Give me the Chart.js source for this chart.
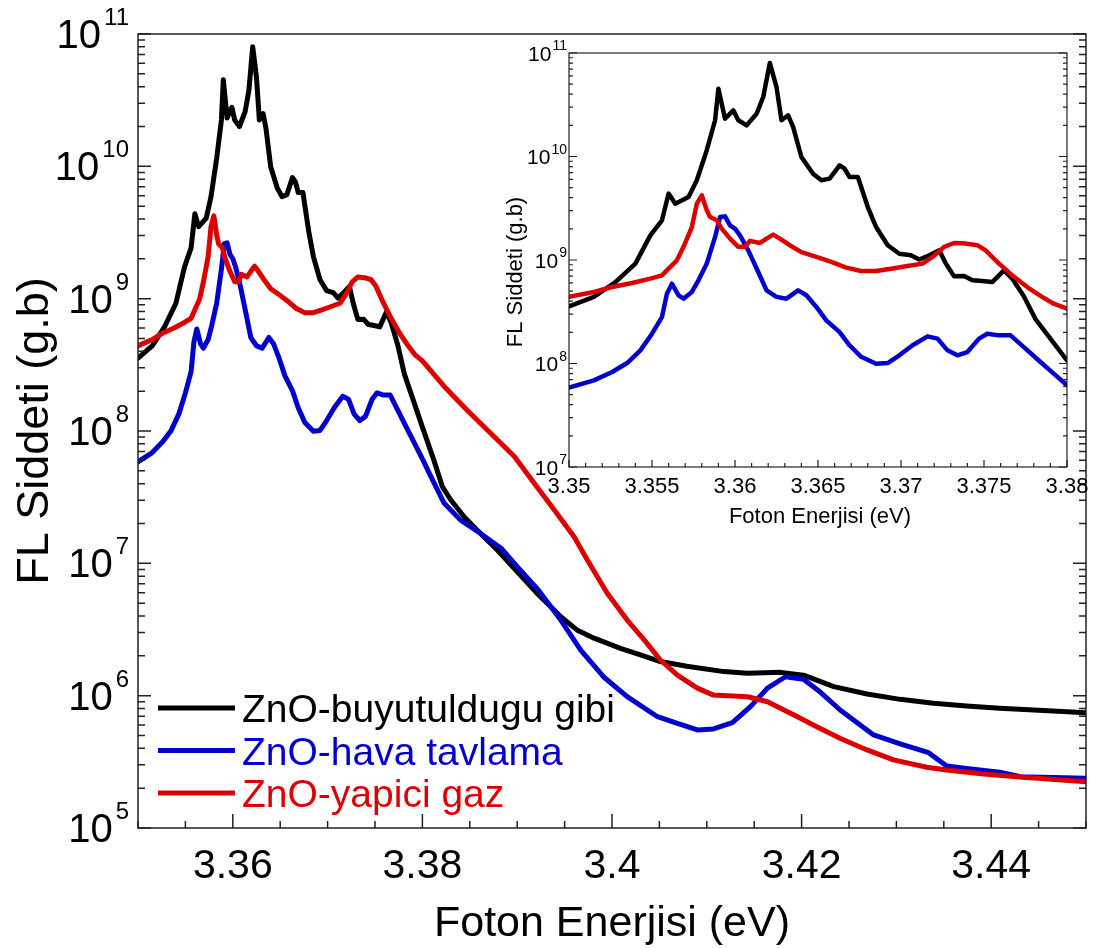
<!DOCTYPE html>
<html>
<head>
<meta charset="utf-8">
<script src="https://cdn.jsdelivr.net/npm/chart.js@4.4.1/dist/chart.umd.min.js"></script>
<style>
  html, body { margin: 0; padding: 0; background: #ffffff; }
  #wrap { position: relative; width: 1096px; height: 948px; background: #ffffff; }
  #wrap canvas { position: absolute; left: 0; top: 0; }
</style>
</head>
<body>
<div id="wrap">
  <canvas id="mainChart" width="1096" height="948"></canvas>
  <canvas id="insetChart" width="1096" height="948"></canvas>
</div>
<script>
// ---------------- DATA ----------------
const seriesLabels = ['ZnO-buyutuldugu gibi', 'ZnO-hava tavlama', 'ZnO-yapici gaz'];

const blackEnergy = [3.3500,3.3515,3.3528,3.3540,3.3549,3.3556,3.3560,3.3564,3.3572,3.3577,
  3.3583,3.3588,3.3590,3.3594,3.3599,3.3602,3.3607,3.3613,3.3617,3.3621,
  3.3625,3.3628,3.3632,3.3635,3.3640,3.3647,3.3652,3.3657,3.3663,3.3666,
  3.3669,3.3674,3.3680,3.3685,3.3692,3.3699,3.3706,3.3711,3.3717,3.3723,
  3.3727,3.3732,3.3738,3.3743,3.3749,3.3755,3.3762,3.3767,3.3774,3.3781,
  3.3790,3.3800,3.3812,3.3821,3.3830,3.3844,3.3861,3.3879,3.3895,3.3920,
  3.3946,3.3963,3.3981,3.4009,3.4030,3.4051,3.4079,3.4118,3.4143,3.4178,
  3.4202,3.4234,3.4269,3.4304,3.4339,3.4374,3.4409,3.4445,3.4500];
const blackIntensity = [3.56e8,4.40e8,6.12e8,9.23e8,1.73e9,2.42e9,4.38e9,3.50e9,4.06e9,5.89e9,
  1.15e10,2.24e10,4.52e10,2.32e10,2.79e10,2.24e10,2.0e10,2.59e10,3.76e10,8.0e10,
  4.69e10,2.24e10,2.50e10,1.93e10,9.89e9,6.82e9,5.89e9,6.11e9,8.22e9,7.62e9,
  6.34e9,6.34e9,3.25e9,2.08e9,1.39e9,1.15e9,1.11e9,1.01e9,1.11e9,1.24e9,
  9.23e8,6.95e8,7.0e8,6.37e8,6.27e8,6.12e8,7.94e8,6.61e8,4.47e8,2.69e8,
  1.74e8,1.07e8,6.05e7,3.80e7,3.01e7,2.25e7,1.69e7,1.26e7,9.44e6,6.03e6,
  3.95e6,3.14e6,2.72e6,2.28e6,2.03e6,1.81e6,1.67e6,1.52e6,1.48e6,1.50e6,
  1.43e6,1.17e6,1.03e6,9.38e5,8.75e5,8.36e5,8.04e5,7.80e5,7.43e5];

const blueEnergy = [3.3500,3.3515,3.3526,3.3535,3.3543,3.3550,3.3556,3.3559,3.3562,3.3566,
  3.3569,3.3574,3.3578,3.3583,3.3588,3.3591,3.3594,3.3597,3.3600,3.3603,
  3.3608,3.3614,3.3619,3.3625,3.3631,3.3638,3.3643,3.3649,3.3655,3.3663,
  3.3669,3.3676,3.3685,3.3692,3.3699,3.3707,3.3716,3.3722,3.3728,3.3734,
  3.3740,3.3747,3.3752,3.3759,3.3766,3.3774,3.3783,3.3792,3.3800,3.3809,
  3.3823,3.3840,3.3861,3.3883,3.3900,3.3922,3.3946,3.3967,3.3991,3.4016,
  3.4048,3.4069,3.4090,3.4107,3.4127,3.4146,3.4164,3.4183,3.4202,3.4220,
  3.4241,3.4276,3.4304,3.4334,3.4353,3.4374,3.4409,3.4431,3.4500];
const blueIntensity = [5.85e7,6.87e7,8.28e7,1.01e8,1.34e8,1.94e8,2.81e8,4.73e8,5.90e8,4.56e8,
  4.23e8,4.91e8,6.37e8,9.23e8,1.67e9,2.60e9,2.64e9,2.16e9,2.01e9,1.73e9,
  1.24e9,7.66e8,5.09e8,4.40e8,4.23e8,5.09e8,4.56e8,3.52e8,2.61e8,2.01e8,
  1.50e8,1.16e8,9.95e7,1.01e8,1.20e8,1.50e8,1.83e8,1.74e8,1.34e8,1.20e8,
  1.29e8,1.74e8,1.94e8,1.87e8,1.87e8,1.44e8,1.07e8,7.98e7,6.15e7,4.52e7,
  2.84e7,2.13e7,1.69e7,1.30e7,9.44e6,6.31e6,3.73e6,2.21e6,1.39e6,9.82e5,
  6.93e5,6.18e5,5.51e5,5.60e5,6.25e5,8.26e5,1.14e6,1.39e6,1.33e6,1.06e6,
  7.76e5,5.05e5,4.32e5,3.71e5,2.94e5,2.82e5,2.64e5,2.44e5,2.38e5];

const redEnergy = [3.3500,3.3515,3.3526,3.3538,3.3549,3.3556,3.3560,3.3565,3.3569,3.3574,
  3.3577,3.3580,3.3583,3.3585,3.3589,3.3592,3.3597,3.3602,3.3606,3.3609,
  3.3615,3.3619,3.3623,3.3627,3.3633,3.3640,3.3649,3.3658,3.3667,3.3676,
  3.3685,3.3694,3.3703,3.3713,3.3719,3.3726,3.3732,3.3739,3.3746,3.3751,
  3.3758,3.3767,3.3776,3.3785,3.3792,3.3800,3.3823,3.3847,3.3872,3.3897,
  3.3918,3.3939,3.3960,3.3974,3.3995,3.4016,3.4034,3.4051,3.4069,3.4090,
  3.4107,3.4143,3.4164,3.4192,3.4216,3.4241,3.4269,3.4297,3.4332,3.4353,
  3.4392,3.4427,3.4500];
const redIntensity = [4.40e8,4.91e8,5.48e8,6.0e8,6.61e8,7.11e8,8.24e8,9.93e8,1.34e9,2.08e9,
  3.50e9,4.22e9,3.02e9,2.60e9,2.42e9,2.01e9,1.61e9,1.34e9,1.34e9,1.53e9,
  1.46e9,1.61e9,1.76e9,1.61e9,1.39e9,1.19e9,1.07e9,9.57e8,8.43e8,7.83e8,
  7.83e8,8.24e8,8.69e8,9.23e8,1.07e9,1.34e9,1.46e9,1.44e9,1.39e9,1.24e9,
  9.57e8,7.11e8,5.48e8,4.40e8,3.78e8,3.39e8,2.17e8,1.44e8,9.62e7,6.41e7,
  4.03e7,2.54e7,1.59e7,1.06e7,5.94e6,3.73e6,2.64e6,1.86e6,1.43e6,1.14e6,
  1.01e6,9.82e5,8.99e5,7.14e5,5.83e5,4.75e5,3.89e5,3.27e5,2.88e5,2.74e5,
  2.56e5,2.44e5,2.24e5];

// axes: ranges and tick labels
const mainXRange = [3.35, 3.45];
const mainXTicks = [3.36, 3.38, 3.40, 3.42, 3.44];
const mainXTickLabels = ['3.36', '3.38', '3.4', '3.42', '3.44'];
const mainYExponents = [5, 6, 7, 8, 9, 10, 11];

const insetXRange = [3.35, 3.38];
const insetXTicks = [3.35, 3.355, 3.36, 3.365, 3.37, 3.375, 3.38];
const insetXTickLabels = ['3.35', '3.355', '3.36', '3.365', '3.37', '3.375', '3.38'];
const insetYExponents = [7, 8, 9, 10, 11];

const xTitle = 'Foton Enerjisi (eV)';
const yTitle = 'FL Siddeti (g.b)';

// ---------------- STYLE ----------------
const FONT = '"Liberation Sans", Arial, Helvetica, sans-serif';
const seriesColors = ['#000000', '#0000cc', '#dd0000'];

function toPoints(xs, ys) { return xs.map((x, i) => ({ x: x, y: ys[i] })); }

function makeDatasets(width) {
  const sets = [
    [blackEnergy, blackIntensity],
    [blueEnergy, blueIntensity],
    [redEnergy, redIntensity]
  ];
  return sets.map((s, i) => ({
    label: seriesLabels[i],
    data: toPoints(s[0], s[1]),
    borderColor: seriesColors[i],
    backgroundColor: seriesColors[i],
    borderWidth: width,
    pointRadius: 0,
    fill: false,
    tension: 0,
    borderJoinStyle: 'round',
    borderCapStyle: 'round',
    order: 3 - i
  }));
}

function axesPlugin(id, st) {
  return {
    id: id,
    afterDatasetsDraw(chart) {
      const ctx = chart.ctx;
      const a = chart.chartArea;
      const xs = chart.scales.x, ys = chart.scales.y;
      ctx.save();
      // frame
      ctx.strokeStyle = '#222222';
      ctx.lineWidth = st.axisWidth;
      ctx.strokeRect(a.left, a.top, a.right - a.left, a.bottom - a.top);
      // x ticks (inward, bottom only)
      ctx.beginPath();
      const n = Math.round((st.xRange[1] - st.xRange[0]) / st.xMinor);
      for (let i = 0; i <= n; i++) {
        const v = st.xRange[0] + i * st.xMinor;
        const px = xs.getPixelForValue(v);
        const major = st.xTicks.some(t => Math.abs(t - v) < 1e-7);
        const len = major ? st.xMajorLen : st.xMinorLen;
        ctx.moveTo(px, a.bottom);
        ctx.lineTo(px, a.bottom - len);
      }
      // y ticks (log, inward, left and right)
      const e0 = st.yExps[0], e1 = st.yExps[st.yExps.length - 1];
      for (let e = e0; e <= e1; e++) {
        for (let k = 1; k <= 9; k++) {
          if (e === e1 && k > 1) break;
          const v = k * Math.pow(10, e);
          const py = ys.getPixelForValue(v);
          const len = k === 1 ? st.yMajorLen : st.yMinorLen;
          ctx.moveTo(a.left, py); ctx.lineTo(a.left + len, py);
          ctx.moveTo(a.right, py); ctx.lineTo(a.right - len, py);
        }
      }
      ctx.stroke();

      ctx.fillStyle = '#000000';
      ctx.textBaseline = 'alphabetic';
      // x tick labels
      ctx.font = st.xTickFont + 'px ' + FONT;
      ctx.textAlign = 'center';
      st.xTicks.forEach((t, i) => {
        ctx.fillText(st.xLabels[i], xs.getPixelForValue(t), a.bottom + st.xLabelOffset);
      });
      // y tick labels 10^n
      st.yExps.forEach(e => {
        const py = ys.getPixelForValue(Math.pow(10, e));
        const sup = String(e);
        ctx.font = st.supFont + 'px ' + FONT;
        const sw = ctx.measureText(sup).width;
        const rx = a.left - st.yLabelGap;
        ctx.textAlign = 'right';
        ctx.fillText(sup, rx, py - st.supRaise);
        ctx.font = st.baseFont + 'px ' + FONT;
        ctx.fillText('10', rx - sw - st.supGap, py + st.baseDrop);
      });
      // axis titles
      ctx.font = st.titleFont + 'px ' + FONT;
      ctx.textAlign = 'center';
      ctx.fillText(xTitle, (a.left + a.right) / 2 + st.xTitleShift, a.bottom + st.xTitleOffset);
      ctx.save();
      ctx.font = st.yTitleFont + 'px ' + FONT;
      ctx.translate(a.left - st.yTitleOffset, st.yTitleCenter !== null ? st.yTitleCenter : (a.top + a.bottom) / 2);
      ctx.rotate(-Math.PI / 2);
      ctx.fillText(yTitle, 0, 0);
      ctx.restore();
      // legend
      if (st.legend) {
        const L = st.legend;
        seriesLabels.forEach((lab, i) => {
          const yy = L.y0 + i * L.dy;
          ctx.strokeStyle = seriesColors[i];
          ctx.lineWidth = L.lineWidth;
          ctx.beginPath();
          ctx.moveTo(a.left + L.x0, yy);
          ctx.lineTo(a.left + L.x1, yy);
          ctx.stroke();
          ctx.fillStyle = seriesColors[i];
          ctx.font = L.font + 'px ' + FONT;
          ctx.textAlign = 'left';
          ctx.fillText(lab, a.left + L.tx, yy + L.textDrop);
        });
      }
      ctx.restore();
    }
  };
}

function baseOptions(pad, xRange, yExps) {
  return {
    responsive: false,
    animation: false,
    devicePixelRatio: 1,
    events: [],
    layout: { padding: pad },
    plugins: { legend: { display: false }, tooltip: { enabled: false }, title: { display: false } },
    scales: {
      x: { type: 'linear', min: xRange[0], max: xRange[1], display: false },
      y: { type: 'logarithmic', min: Math.pow(10, yExps[0]), max: Math.pow(10, yExps[yExps.length - 1]), display: false }
    }
  };
}

// main chart
new Chart(document.getElementById('mainChart'), {
  type: 'line',
  data: { datasets: makeDatasets(5) },
  options: baseOptions({ left: 138, top: 34, right: 10, bottom: 120 }, mainXRange, mainYExponents),
  plugins: [axesPlugin('mainAxes', {
    axisWidth: 1.5,
    xRange: mainXRange, xMinor: 0.005, xTicks: mainXTicks, xLabels: mainXTickLabels,
    xMajorLen: 14, xMinorLen: 7, yMajorLen: 13, yMinorLen: 7,
    yExps: mainYExponents,
    xTickFont: 41, xLabelOffset: 50,
    supFont: 24, baseFont: 40, yLabelGap: 9, supGap: 3, supRaise: 9, baseDrop: 14,
    titleFont: 43, yTitleFont: 45, xTitleOffset: 108, xTitleShift: 0, yTitleOffset: 90, yTitleCenter: null,
    legend: { x0: 20, x1: 97, tx: 104, y0: 708, dy: 42.5, lineWidth: 5, font: 39, textDrop: 14 }
  })]
});

// inset chart
new Chart(document.getElementById('insetChart'), {
  type: 'line',
  data: { datasets: makeDatasets(4.5) },
  options: baseOptions({ left: 569, top: 53, right: 29, bottom: 481 }, insetXRange, insetYExponents),
  plugins: [axesPlugin('insetAxes', {
    axisWidth: 1.2,
    xRange: insetXRange, xMinor: 0.001, xTicks: insetXTicks, xLabels: insetXTickLabels,
    xMajorLen: 7, xMinorLen: 4, yMajorLen: 8, yMinorLen: 4,
    yExps: insetYExponents,
    xTickFont: 22, xLabelOffset: 26,
    supFont: 14, baseFont: 21, yLabelGap: 2, supGap: 1, supRaise: 3, baseDrop: 7.5,
    titleFont: 22, yTitleFont: 22, xTitleOffset: 56, xTitleShift: 2, yTitleOffset: 47, yTitleCenter: 272,
    legend: null
  })]
});
</script>
</body>
</html>
